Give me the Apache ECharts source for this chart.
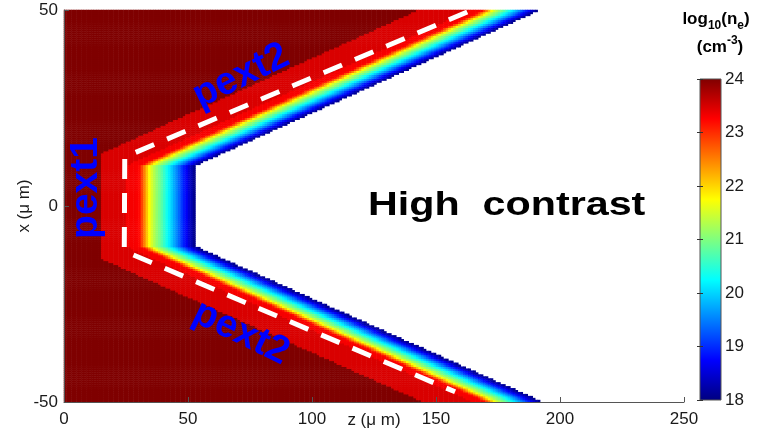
<!DOCTYPE html>
<html><head><meta charset="utf-8">
<script src="https://cdn.jsdelivr.net/npm/echarts@6/dist/echarts.min.js"></script>
<style>html,body{margin:0;padding:0;background:#fff}#c{width:757px;height:432px}</style>
</head><body><div id="c"></div>
<script>
// ---------- values ----------
const zTicks = [0, 50, 100, 150, 200, 250];      // µm
const xTicks = [-50, 0, 50];                     // µm
const cbTicks = [18, 19, 20, 21, 22, 23, 24];    // log10(ne)
// solid target edge (log ne = 24 on the left of it), vertices x / z in µm
const solidEdgeX = [-50, -13.5, 13.5, 50];
const solidEdgeZ = [145, 15.4, 15.4, 143];
// start of the density ramp, vertices x / z in µm
const rampFrontX = [-50, -10.3, 10.3, 50];
const rampFrontZ = [165, 25, 25, 164];
const solidLog = 24;
const plateauLog = 23.47;
// log10(ne) behind the ramp front, one value per µm of depth along z
const rampLog = [23.3, 23.3, 23.3, 23.3, 23.28, 23.2, 22.85, 22.5, 22.1, 21.75,
                 21.5, 21.3, 21.1, 20.95, 20.75, 20.55, 20.35, 20.15, 19.95, 19.75,
                 19.55, 19.35, 19.1, 18.9, 18.7, 18.5, 18.3, 18.1];
// white dashed guide line
const dashZ = [162.6, 24.5, 24.3, 157.7];
const dashX = [49.5, 12.5, -11.5, -47.4];
// annotations
const labelHigh = 'High  contrast';
const labelP1 = 'pext1';
const labelP2 = 'pext2';
// jet colormap
const jetColors = ['#00007f', '#0000ff', '#007fff', '#00ffff', '#7fff7f', '#ffff00', '#ff7f00', '#ff0000', '#7f0000'];

// ---------- build the heatmap table ----------
const zMin = 0, zMax = 250, xMin = -50, xMax = 50;
const dz = 1, dx = 0.5;
const zCells = [], xCells = [];
for (let z = zMin + dz / 2; z < zMax; z += dz) zCells.push(z);
for (let x = xMin + dx / 2; x < xMax; x += dx) xCells.push(x);

function edgeAt(xs, zs, x) {
  for (let k = 0; k < xs.length - 1; k++) {
    if (x >= xs[k] && x <= xs[k + 1]) {
      return zs[k] + (zs[k + 1] - zs[k]) * (x - xs[k]) / (xs[k + 1] - xs[k]);
    }
  }
  return zs[zs.length - 1];
}
const cells = [];
xCells.forEach((x, j) => {
  const zs = edgeAt(solidEdgeX, solidEdgeZ, x);
  const zf = edgeAt(rampFrontX, rampFrontZ, x);
  zCells.forEach((z, i) => {
    let v = null;
    if (z < zs) v = solidLog;
    else if (z < zf) v = plateauLog;
    else {
      const d = Math.floor(z - zf);
      if (d < rampLog.length) v = rampLog[d];
    }
    if (v !== null) cells.push([i, j, v]);
  });
});
const dashData = dashZ.map((z, k) => [z, dashX[k]]);

const FONT = '"Liberation Sans", Arial, Helvetica, sans-serif';
const chart = echarts.init(document.getElementById('c'), null, {renderer: 'canvas'});
const cbStops = jetColors.slice().reverse().map((c, k, a) => ({offset: k / (a.length - 1), color: c}));

chart.setOption({
  animation: false,
  backgroundColor: '#fff',
  grid: [
    {left: 64, top: 10, width: 620, height: 392, outerBoundsMode: 'none', containLabel: false},
    {left: 700, top: 79, width: 21, height: 321, outerBoundsMode: 'none', containLabel: false}
  ],
  xAxis: [
    {type: 'category', gridIndex: 0, data: zCells, show: false},
    {type: 'value', gridIndex: 0, min: zMin, max: zMax, interval: 50, position: 'bottom', z: 10,
     name: 'z (μ m)', nameLocation: 'middle', nameGap: 10, nameMoveOverlap: false,
     nameTextStyle: {fontSize: 17, fontFamily: FONT, color: '#1a1a1a', verticalAlign: 'top'},
     axisLine: {show: true, lineStyle: {color: '#555', width: 1}},
     axisTick: {show: true, inside: true, length: 5, lineStyle: {color: '#555'}},
     axisLabel: {fontSize: 17, fontFamily: FONT, color: '#1a1a1a', margin: 9,
                 formatter: v => zTicks.includes(v) ? String(v) : ''},
     splitLine: {show: false}},
    {type: 'value', gridIndex: 1, min: 0, max: 1, show: false}
  ],
  yAxis: [
    {type: 'category', gridIndex: 0, data: xCells, show: false},
    {type: 'value', gridIndex: 0, min: xMin, max: xMax, interval: 50, position: 'left', z: 10,
     name: 'x (μ m)', nameLocation: 'middle', nameGap: 31, nameMoveOverlap: false,
     nameTextStyle: {fontSize: 17, fontFamily: FONT, color: '#1a1a1a'},
     axisLine: {show: true, lineStyle: {color: '#555', width: 1}},
     axisTick: {show: true, inside: true, length: 5, lineStyle: {color: '#555'}},
     axisLabel: {fontSize: 17, fontFamily: FONT, color: '#1a1a1a', margin: 6,
                 formatter: v => xTicks.includes(v) ? String(v) : ''},
     splitLine: {show: false}},
    {type: 'value', gridIndex: 1, min: 18, max: 24, interval: 1, position: 'right', z: 10,
     axisLine: {show: false},
     axisTick: {show: true, inside: true, length: 3, lineStyle: {color: '#333'}},
     axisLabel: {fontSize: 17, fontFamily: FONT, color: '#1a1a1a', margin: 4,
                 formatter: v => cbTicks.includes(v) ? String(v) : ''},
     splitLine: {show: false}},
    {type: 'value', gridIndex: 1, min: 18, max: 24, interval: 1, position: 'left', z: 10,
     axisLine: {show: false},
     axisTick: {show: true, inside: true, length: 3, lineStyle: {color: '#333'}},
     axisLabel: {show: false}, splitLine: {show: false}}
  ],
  visualMap: {
    show: false, type: 'continuous', min: 18, max: 24, seriesIndex: 0,
    inRange: {color: jetColors}
  },
  series: [
    {type: 'heatmap', xAxisIndex: 0, yAxisIndex: 0, data: cells,
     progressive: 0, emphasis: {disabled: true}, silent: true, z: 2},
    {type: 'line', xAxisIndex: 1, yAxisIndex: 1, data: dashData, symbol: 'none', z: 4,
     silent: true,
     lineStyle: {color: '#ffffff', width: 5, type: [20, 14], cap: 'butt', join: 'miter'}},
    {type: 'custom', xAxisIndex: 2, yAxisIndex: 2, data: [[0, 18, 24]],
     encode: {x: 0, y: [1, 2]}, silent: true, z: 3,
     renderItem: (params, api) => {
       const p0 = api.coord([0, api.value(2)]);
       const p1 = api.coord([1, api.value(1)]);
       return {type: 'rect',
         shape: {x: p0[0], y: p0[1], width: p1[0] - p0[0], height: p1[1] - p0[1]},
         style: {fill: new echarts.graphic.LinearGradient(0, 0, 0, 1, cbStops), stroke: '#555', lineWidth: 1}};
     }}
  ],
  graphic: [
    {type: 'text', x: 368, y: 206, scaleX: 1.25, z: 20,
     style: {text: labelHigh, fontSize: 33, fontWeight: 'bold', fontFamily: FONT, fill: '#000',
             align: 'left', verticalAlign: 'middle', textAlign: 'left', textVerticalAlign: 'middle'}},
    {type: 'text', x: 241, y: 76, rotation: 26 * Math.PI / 180, z: 20,
     style: {text: labelP2, fontSize: 39, fontWeight: 'bold', fontFamily: FONT, fill: '#0000ff',
             align: 'center', verticalAlign: 'middle', textAlign: 'center', textVerticalAlign: 'middle'}},
    {type: 'text', x: 241, y: 333, rotation: -26 * Math.PI / 180, z: 20,
     style: {text: labelP2, fontSize: 39, fontWeight: 'bold', fontFamily: FONT, fill: '#0000ff',
             align: 'center', verticalAlign: 'middle', textAlign: 'center', textVerticalAlign: 'middle'}},
    {type: 'text', x: 86, y: 188, rotation: Math.PI / 2, z: 20,
     style: {text: labelP1, fontSize: 39, fontWeight: 'bold', fontFamily: FONT, fill: '#0000ff',
             align: 'center', verticalAlign: 'middle', textAlign: 'center', textVerticalAlign: 'middle'}},
    {type: 'text', x: 716, y: 19, z: 20,
     style: {text: '{a|log}{s|10}{a|(n}{s|e}{a|)}', align: 'center', verticalAlign: 'middle',
             textAlign: 'center', textVerticalAlign: 'middle', fill: '#000',
             rich: {a: {fontSize: 17, fontWeight: 'bold', fontFamily: FONT, lineHeight: 25, fill: '#000', color: '#000'},
                    s: {fontSize: 12, fontWeight: 'bold', fontFamily: FONT, lineHeight: 12, verticalAlign: 'bottom', fill: '#000', color: '#000'}}}},
    {type: 'text', x: 720, y: 47, z: 20,
     style: {text: '{a|(cm}{s|-3}{a|)}', align: 'center', verticalAlign: 'middle',
             textAlign: 'center', textVerticalAlign: 'middle', fill: '#000',
             rich: {a: {fontSize: 17, fontWeight: 'bold', fontFamily: FONT, lineHeight: 25, fill: '#000', color: '#000'},
                    s: {fontSize: 12, fontWeight: 'bold', fontFamily: FONT, lineHeight: 12, verticalAlign: 'top', fill: '#000', color: '#000'}}}}
  ]
});
</script>
</body></html>
